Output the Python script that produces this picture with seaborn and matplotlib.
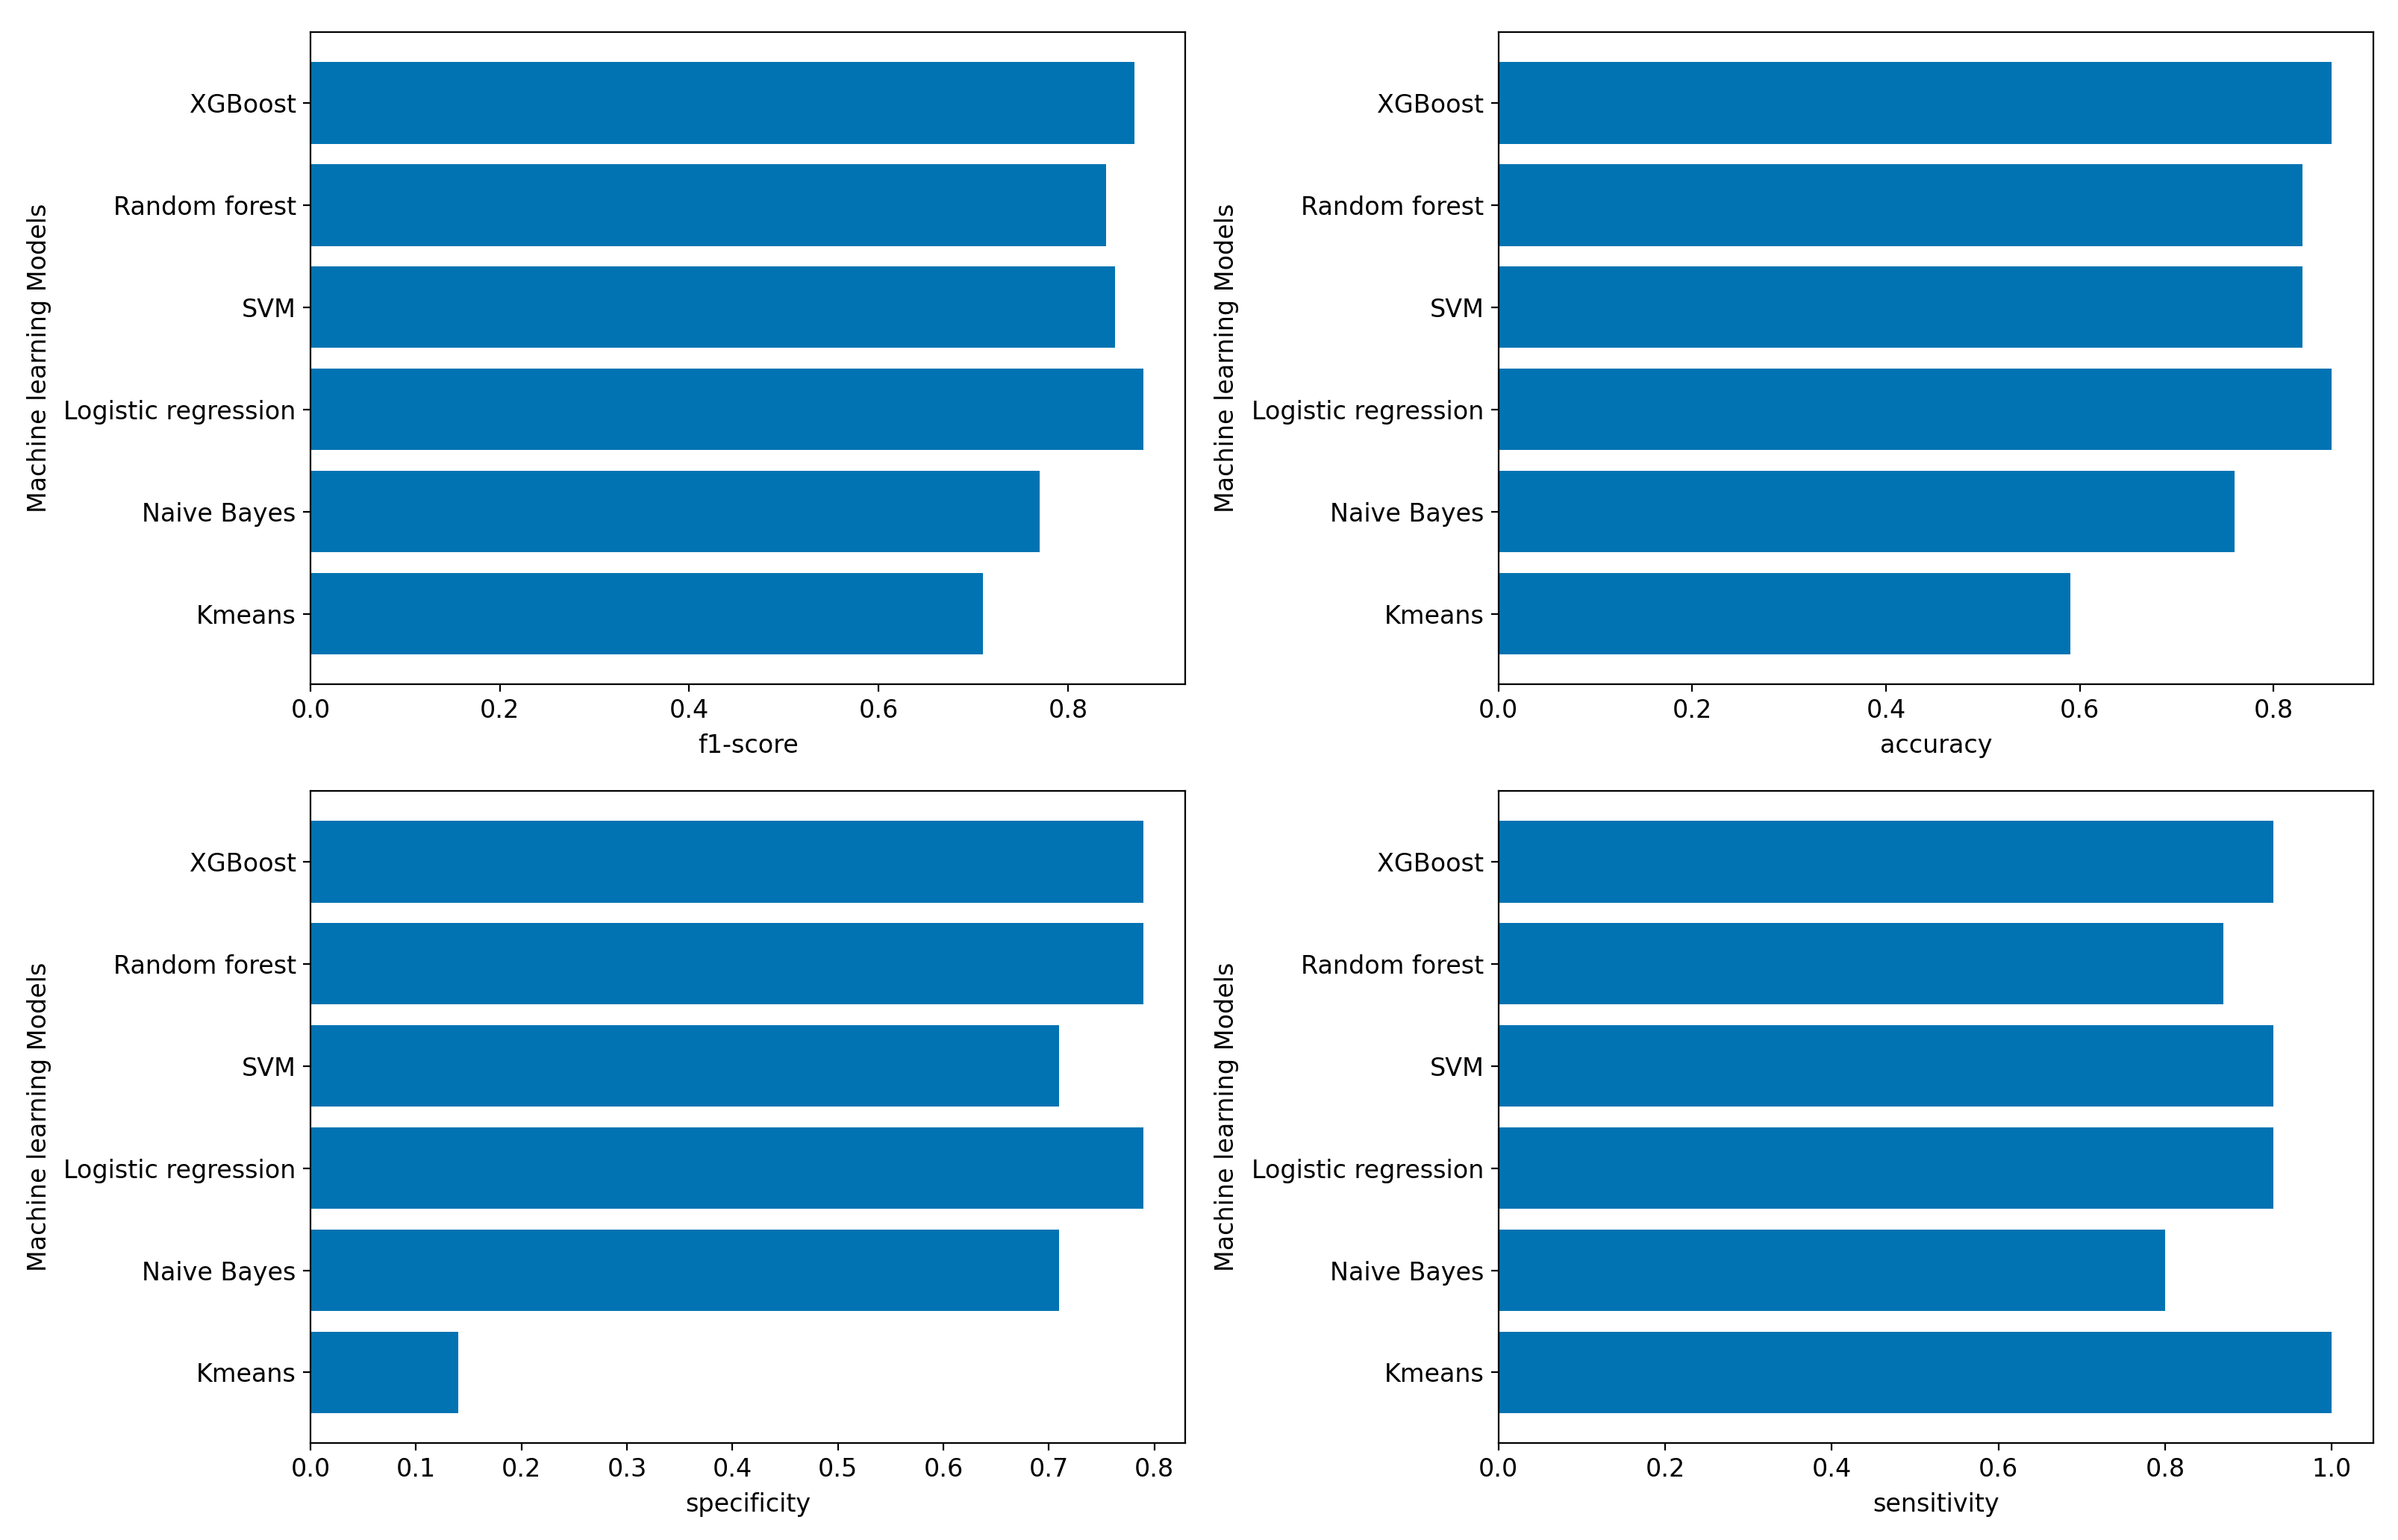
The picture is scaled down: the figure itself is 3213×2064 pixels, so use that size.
import matplotlib
matplotlib.use('Agg')
import matplotlib.pyplot as plt
import pandas as pd
import seaborn as sns


models = ['XGBoost', 'Random forest', 'SVM', 'Logistic regression', 'Naive Bayes', 'Kmeans']

f1_score = [0.87, 0.84, 0.85, 0.88, 0.77, 0.71]
accuracy = [0.86, 0.83, 0.83, 0.86, 0.76, 0.59]
specificity = [0.79, 0.79, 0.71, 0.79, 0.71, 0.14]
sensitivity = [0.93, 0.87, 0.93, 0.93, 0.80, 1.00]

BAR_COLOR = '#0173b2'


def plot_metric(ax, values, metric):
    df = pd.DataFrame({'model': models, metric: values})
    sns.barplot(data=df, x=metric, y='model', orient='h', order=models,
                color=BAR_COLOR, saturation=1, errorbar=None, width=0.8, ax=ax)
    n = len(models)
    pad = 0.05 * (n - 1 + 0.8)
    ax.set_ylim(n - 1 + 0.4 + pad, -0.4 - pad)
    ax.set_xlabel(metric, labelpad=5)
    ax.set_ylabel('Machine learning Models', labelpad=6)
    for side in ['top', 'right', 'left', 'bottom']:
        ax.spines[side].set_visible(True)
        ax.spines[side].set_linewidth(0.8)
        ax.spines[side].set_color('black')


plt.rcParams['font.family'] = ['DejaVu Sans']
plt.rcParams['font.size'] = 12

fig, axes = plt.subplots(2, 2, figsize=(16.065, 10.32), dpi=200)
plt.subplots_adjust(left=0.1295, right=0.9897, top=0.979, bottom=0.063,
                    wspace=0.358, hspace=0.164)

plot_metric(axes[0, 0], f1_score, 'f1-score')
plot_metric(axes[0, 1], accuracy, 'accuracy')
plot_metric(axes[1, 0], specificity, 'specificity')
plot_metric(axes[1, 1], sensitivity, 'sensitivity')

plt.savefig('out.png', dpi=200)
